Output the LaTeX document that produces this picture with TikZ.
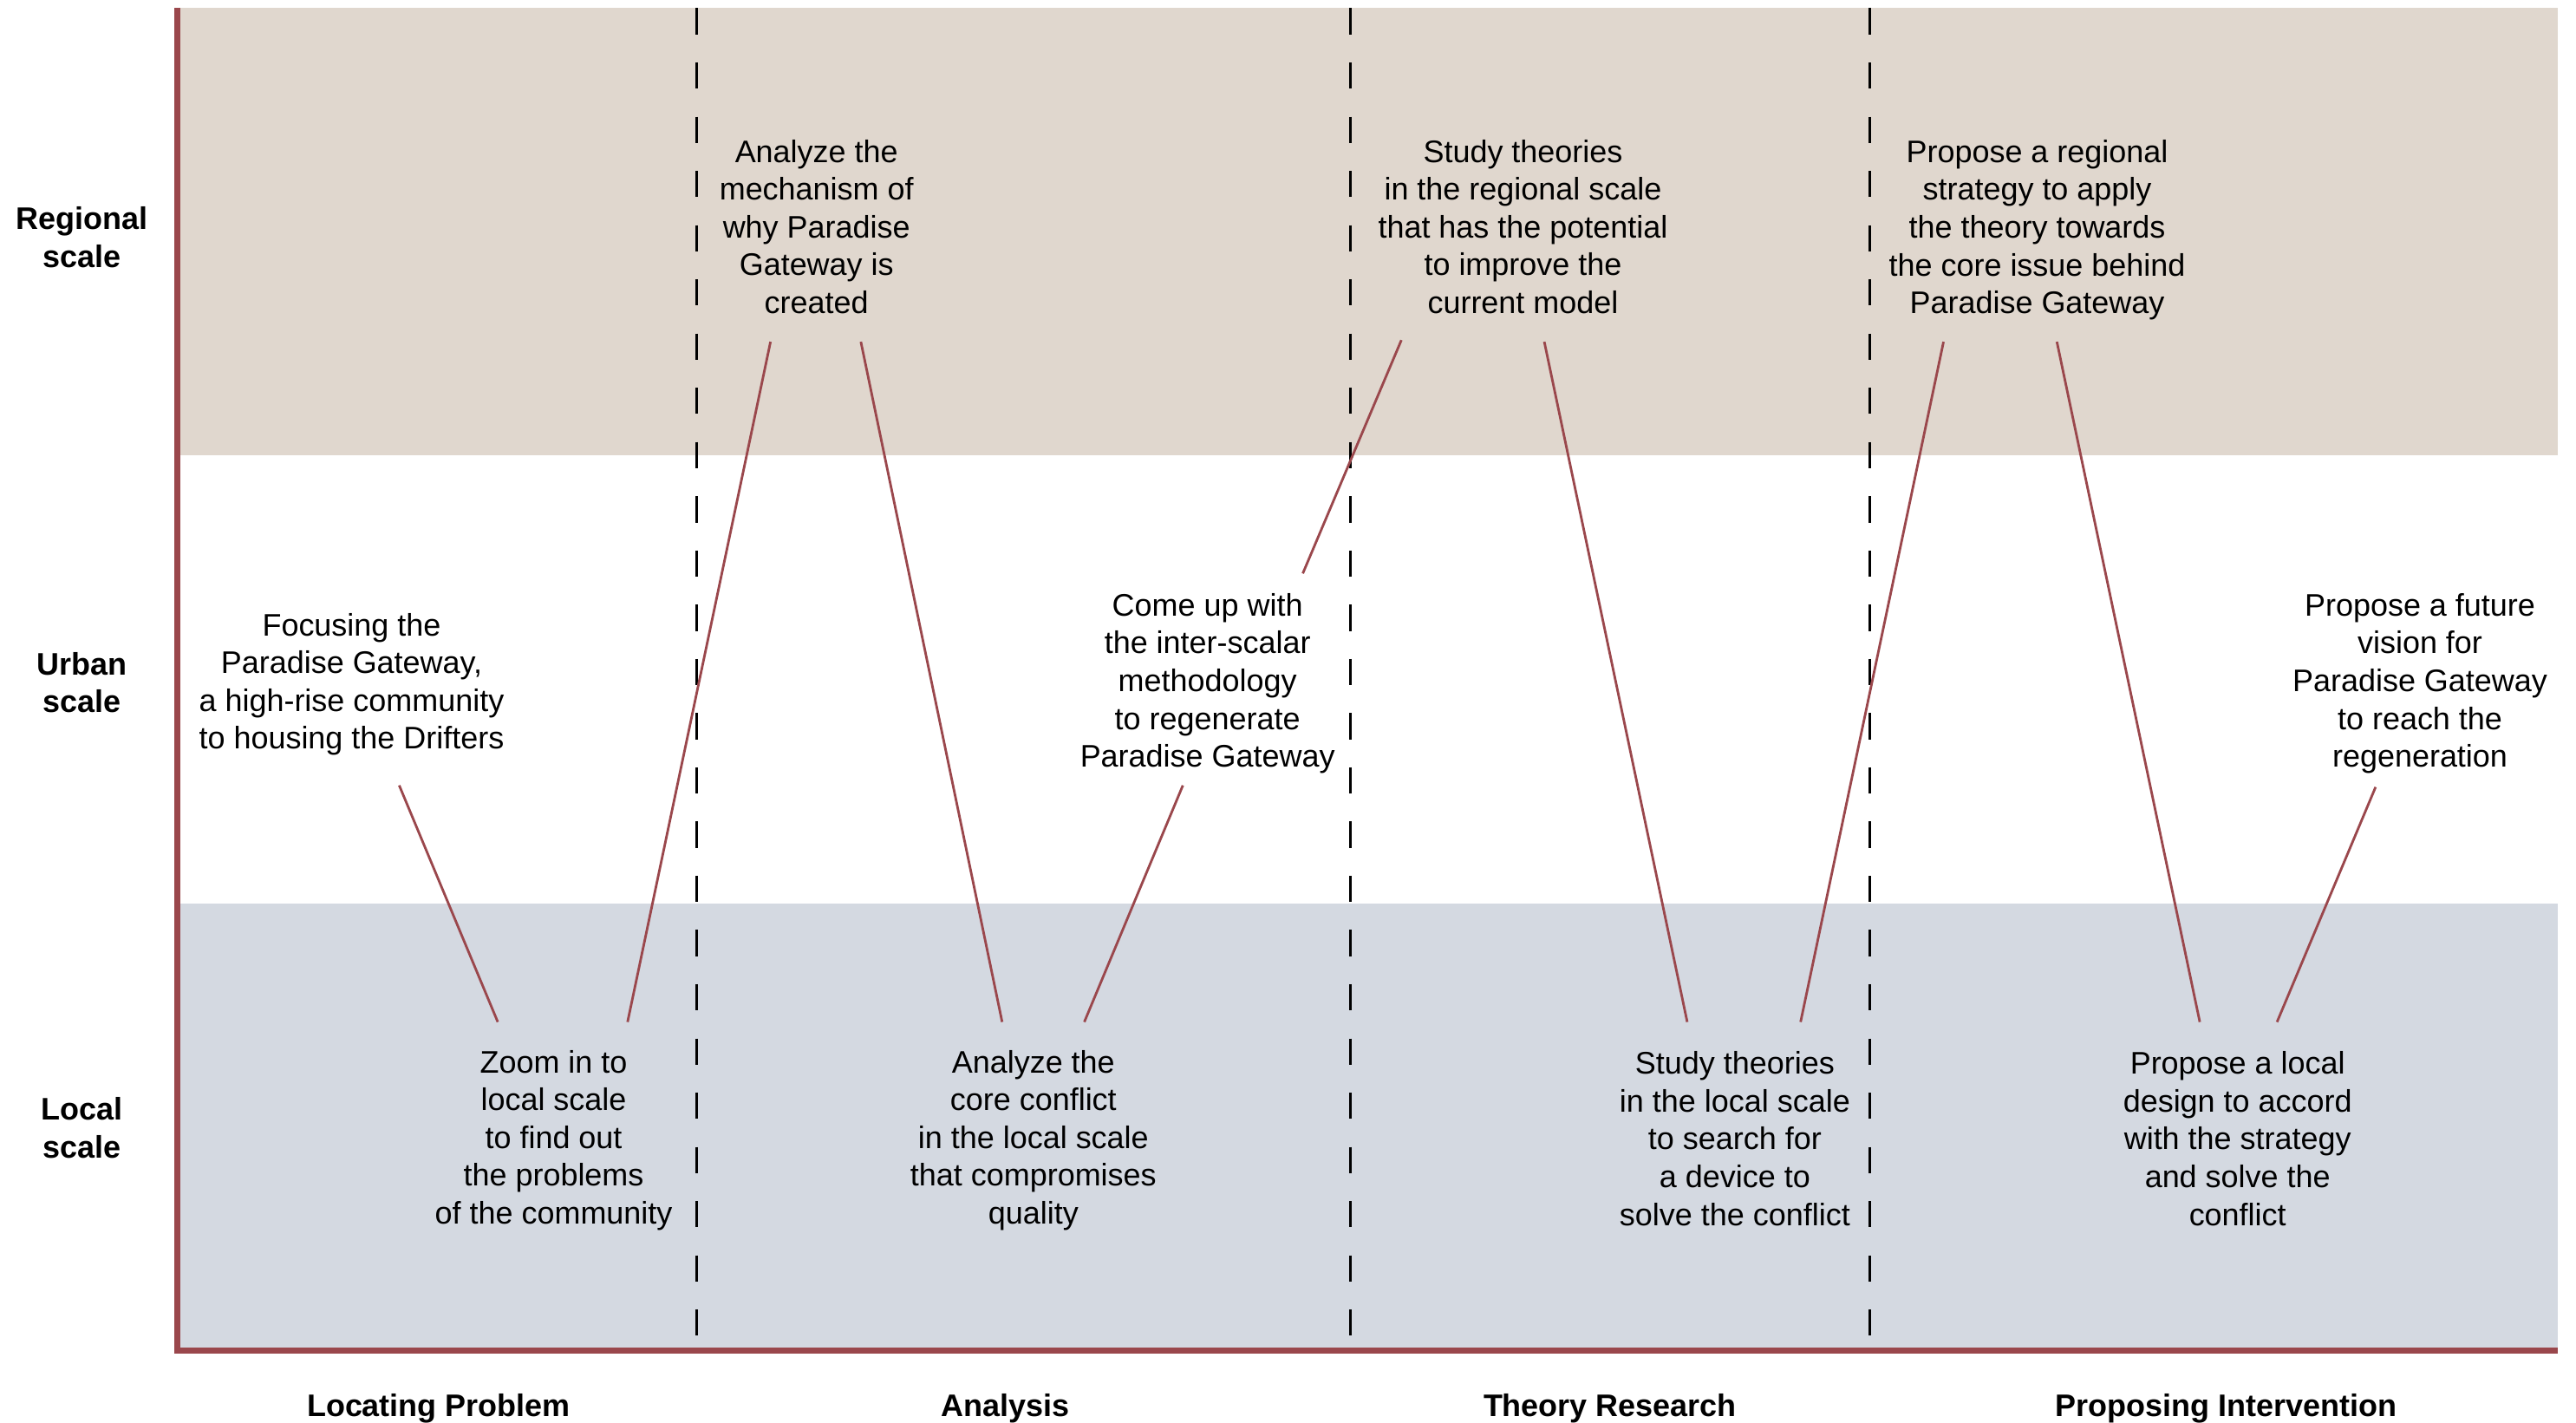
\documentclass[tikz,border=0pt]{standalone}
\usepackage{fontspec}
\setmainfont{Liberation Sans}
\definecolor{regionbg}{HTML}{E0D7CE}
\definecolor{localbg}{HTML}{D4D9E1}
\definecolor{axisred}{HTML}{9A474C}

\begin{document}
\begin{tikzpicture}[
    every node/.style={align=center, inner sep=0pt},
    stage/.style={font=\fontsize{10.8}{13.1}\selectfont},
    scalelabel/.style={font=\fontsize{10.8}{13.1}\selectfont\bfseries},
    phase/.style={font=\fontsize{10.8}{13.1}\selectfont\bfseries},
    link/.style={draw=axisred, line width=0.85pt},
    divider/.style={black, line width=0.85pt, dash pattern=on 0.32cm off 0.34cm}
]
    \useasboundingbox (0,0) rectangle (31.36,-17.32);

    % Scale bands
    \fill[regionbg] (2.16,-0.10) rectangle (31.14,-5.54);
    \fill[localbg] (2.16,-11.00) rectangle (31.14,-16.44);

    % Phase dividers
    \foreach \x in {8.48,16.44,22.76}
        \draw[divider] (\x,-0.10) -- (\x,-16.44);

    % Axes
    \draw[axisred, line width=2.2pt] (2.16,-0.10) -- (2.16,-16.44) -- (31.14,-16.44);

    % Scale labels
    \node[scalelabel] (regional) at (1.0,-2.89) {Regional\\scale};
    \node[scalelabel] (urban) at (1.0,-8.31) {Urban\\scale};
    \node[scalelabel] (local) at (1.0,-13.73) {Local\\scale};

    % Phase labels
    \node[phase] (locating) at (5.34,-17.14) {Locating Problem};
    \node[phase] (analysis) at (12.24,-17.14) {Analysis};
    \node[phase] (theory) at (19.60,-17.14) {Theory Research};
    \node[phase] (proposing) at (27.10,-17.14) {Proposing Intervention};

    % Stages
    \node[stage] (focus) at (4.28,-8.33) {Focusing the\\Paradise Gateway,\\a high-rise community\\to housing the Drifters};
    \node[stage] (zoom) at (6.74,-13.88) {Zoom in to\\local scale\\to find out\\the problems\\of the community};
    \node[stage] (mechanism) at (9.94,-2.76) {Analyze the\\mechanism of\\why Paradise\\Gateway is\\created};
    \node[stage] (conflict) at (12.58,-13.88) {Analyze the\\core conflict\\in the local scale\\that compromises\\quality};
    \node[stage] (method) at (14.70,-8.32) {Come up with\\the inter-scalar\\methodology\\to regenerate\\Paradise Gateway};
    \node[stage] (theoryreg) at (18.54,-2.76) {Study theories\\in the regional scale\\that has the potential\\to improve the\\current model};
    \node[stage] (theoryloc) at (21.12,-13.86) {Study theories\\in the local scale\\to search for\\a device to\\solve the conflict};
    \node[stage] (strategy) at (24.80,-2.80) {Propose a regional\\strategy to apply\\the theory towards\\the core issue behind\\Paradise Gateway};
    \node[stage] (design) at (27.24,-13.86) {Propose a local\\design to accord\\with the strategy\\and solve the\\conflict};
    \node[stage] (vision) at (29.46,-8.32) {Propose a future\\vision for\\Paradise Gateway\\to reach the\\regeneration};

    % Connections
    \draw[link] ([shift={(0.58,-1.23)}]focus.center) -- ([shift={(-0.68,1.44)}]zoom.center);
    \draw[link] ([shift={(0.90,1.44)}]zoom.center) -- ([shift={(-0.56,-1.40)}]mechanism.center);
    \draw[link] ([shift={(0.54,-1.40)}]mechanism.center) -- ([shift={(-0.38,1.44)}]conflict.center);
    \draw[link] ([shift={(0.62,1.44)}]conflict.center) -- ([shift={(-0.30,-1.24)}]method.center);
    \draw[link] ([shift={(1.16,1.34)}]method.center) -- ([shift={(-1.48,-1.38)}]theoryreg.center);
    \draw[link] ([shift={(0.26,-1.40)}]theoryreg.center) -- ([shift={(-0.58,1.42)}]theoryloc.center);
    \draw[link] ([shift={(0.80,1.42)}]theoryloc.center) -- ([shift={(-1.14,-1.36)}]strategy.center);
    \draw[link] ([shift={(0.24,-1.36)}]strategy.center) -- ([shift={(-0.46,1.42)}]design.center);
    \draw[link] ([shift={(0.48,1.42)}]design.center) -- ([shift={(-0.54,-1.26)}]vision.center);
\end{tikzpicture}
\end{document}
